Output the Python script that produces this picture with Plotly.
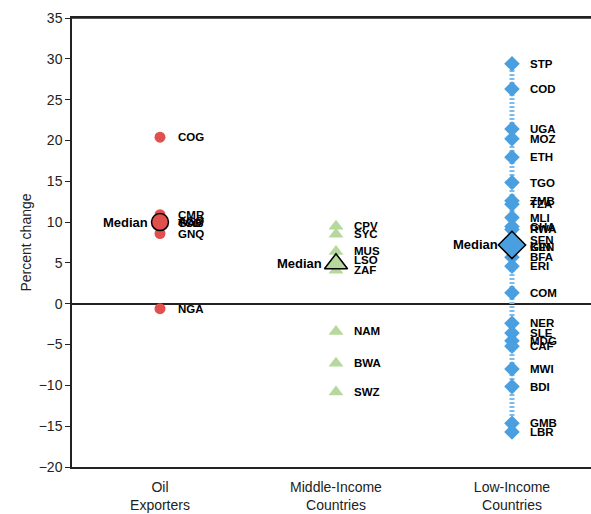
import plotly.graph_objects as go

categories = ["Oil<br>Exporters", "Middle-Income<br>Countries", "Low-Income<br>Countries"]

oil_codes = ["COG", "CMR", "AGO", "TCD", "GAB", "GNQ", "NGA"]
oil_vals = [20.4, 10.9, 10.1, 9.95, 9.85, 8.6, -0.6]

mid_codes = ["CPV", "SYC", "MUS", "LSO", "ZAF", "NAM", "BWA", "SWZ"]
mid_vals = [9.5, 8.5, 6.4, 5.3, 4.1, -3.4, -7.3, -10.8]

low_codes = ["STP", "COD", "UGA", "MOZ", "ETH", "TGO", "ZMB", "TZA", "MLI", "GHA", "RWA",
             "SEN", "KEN", "GIN", "BFA", "ERI", "COM", "NER", "SLE", "MDG", "CAF", "MWI",
             "BDI", "GMB", "LBR"]
low_vals = [29.4, 26.3, 21.4, 20.2, 17.95, 14.85, 12.6, 12.2, 10.55, 9.45, 9.1,
            7.8, 7.0, 6.9, 5.7, 4.6, 1.35, -2.4, -3.6, -4.55, -5.2, -8.0,
            -10.15, -14.65, -15.7]

medians = [10.0, 4.9, 7.2]

y_ticks = [-20, -15, -10, -5, 0, 5, 10, 15, 20, 25, 30, 35]

RED = "#E0504F"
GREEN = "#B7D89C"
BLUE = "#4A9FE0"
BLUE_LINE = "#7DBBEA"
NARROW = "Liberation Sans Narrow, Arial Narrow, Liberation Sans, sans-serif"

fig = go.Figure()

# vertical dashed line through low-income points
fig.add_trace(go.Scatter(x=[3, 3], y=[min(low_vals), max(low_vals)], mode="lines",
                         line=dict(color=BLUE_LINE, width=5, dash="2px,2px"),
                         hoverinfo="skip", showlegend=False))

fig.add_trace(go.Scatter(x=[1] * len(oil_vals), y=oil_vals, mode="markers",
                         marker=dict(symbol="circle", size=11, color=RED),
                         showlegend=False))
fig.add_trace(go.Scatter(x=[2] * len(mid_vals), y=mid_vals, mode="markers",
                         marker=dict(symbol="triangle-up", size=13, color=GREEN),
                         showlegend=False))
fig.add_trace(go.Scatter(x=[3] * len(low_vals), y=low_vals, mode="markers",
                         marker=dict(symbol="diamond", size=12, color=BLUE),
                         showlegend=False))

# medians
fig.add_trace(go.Scatter(x=[1], y=[medians[0]], mode="markers",
                         marker=dict(symbol="circle", size=17, color=RED,
                                     line=dict(color="black", width=1.5)), showlegend=False))
fig.add_trace(go.Scatter(x=[2], y=[medians[1]], mode="markers",
                         marker=dict(symbol="triangle-up", size=20, color=GREEN,
                                     line=dict(color="black", width=1.5)), showlegend=False))
fig.add_trace(go.Scatter(x=[3], y=[medians[2]], mode="markers",
                         marker=dict(symbol="diamond", size=21, color=BLUE,
                                     line=dict(color="black", width=1.5)), showlegend=False))

annotations = []
lab_font = dict(family="Liberation Sans, Arial, sans-serif", size=11.5, color="black")
for xpos, codes, vals in [(1, oil_codes, oil_vals), (2, mid_codes, mid_vals), (3, low_codes, low_vals)]:
    for c, v in zip(codes, vals):
        annotations.append(dict(x=xpos, y=v, xref="x", yref="y", text="<b>%s</b>" % c,
                                showarrow=False, xanchor="left", yanchor="middle",
                                xshift=16, font=lab_font))

med_shift = [-10, -12, -12]
for i, m in enumerate(medians):
    annotations.append(dict(x=i + 1, y=m, xref="x", yref="y", text="<b>Median</b>",
                            showarrow=False, xanchor="right", yanchor="middle",
                            xshift=med_shift[i],
                            font=dict(family="Liberation Sans, Arial, sans-serif", size=13, color="black")))

fig.update_layout(
    width=591, height=514,
    margin=dict(l=72, r=0, t=18, b=47),
    paper_bgcolor="white", plot_bgcolor="white",
    annotations=annotations,
    xaxis=dict(range=[0.5, 3.449], tickvals=[1, 2, 3], ticktext=categories,
               automargin=False,
               showgrid=False, zeroline=False, showline=True, linecolor="#222", linewidth=1.5,
               mirror=True, ticks="outside", ticklen=6, tickcolor="rgba(0,0,0,0)",
               tickfont=dict(family=NARROW, size=14, color="#222")),
    yaxis=dict(range=[-20, 35], tickvals=y_ticks, showgrid=False, automargin=False,
               zeroline=True, zerolinecolor="#222", zerolinewidth=1.5,
               showline=True, linecolor="#222", linewidth=1.5, mirror=False,
               ticks="outside", ticklen=5, tickcolor="#222",
               tickfont=dict(family=NARROW, size=14, color="#222"),
               title=dict(text="Percent change", standoff=4,
                          font=dict(family=NARROW, size=14, color="#222"))),
)
# top border line
fig.add_shape(type="line", xref="paper", yref="paper", x0=0, x1=1, y0=1, y1=1,
              line=dict(color="#222", width=1.5))

fig.write_html("out.html", config={"displayModeBar": False},
               post_script="document.body.style.margin='0';document.body.style.overflow='hidden';")
